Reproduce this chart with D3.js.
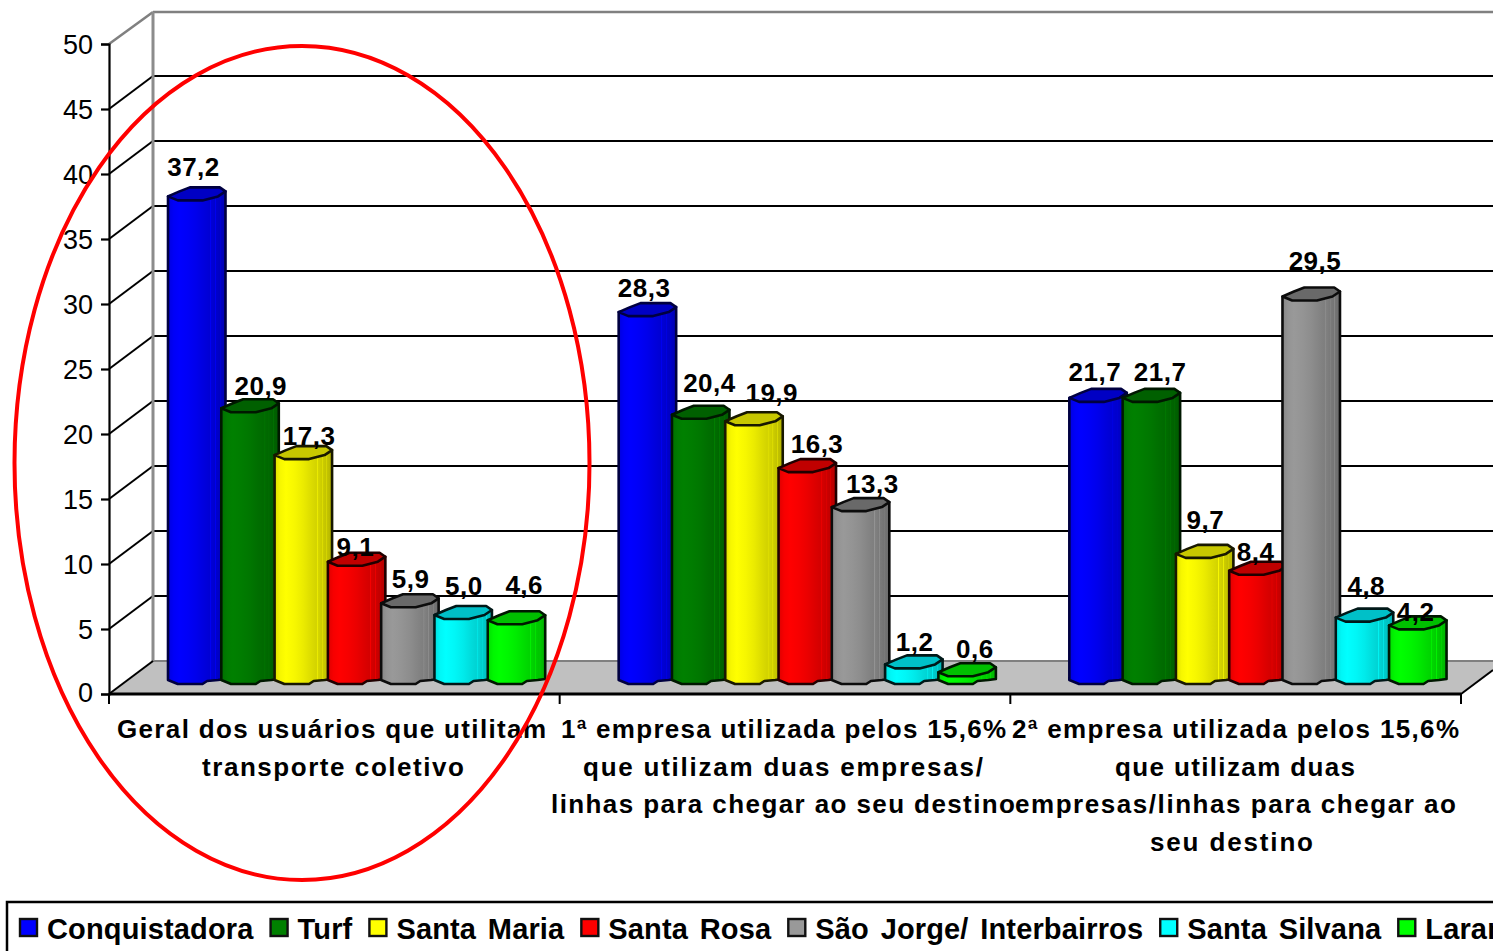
<!DOCTYPE html>
<html><head><meta charset="utf-8">
<script src="https://cdn.jsdelivr.net/npm/d3@7"></script>
<style>
html,body{margin:0;padding:0;background:#fff;overflow:hidden}
svg{display:block}
text{font-family:"Liberation Sans",Arial,sans-serif;fill:#000}
</style></head><body>
<svg id="c" width="1493" height="951"></svg>
<script>
const categories = ["cat1","cat2","cat3"];
const categoryLines = [
  ["Geral dos usuários que utilitam","transporte coletivo"],
  ["1ª empresa utilizada pelos 15,6%","que utilizam duas empresas/","linhas para chegar ao seu destino"],
  ["2ª empresa utilizada pelos 15,6%","que utilizam duas","empresas/linhas para chegar ao","seu destino"]
];
const seriesNames = ["Conquistadora","Turf","Santa Maria","Santa Rosa","São Jorge/ Interbairros","Santa Silvana","Laranjeiras"];
const conquistadora = [37.2,28.3,21.7];
const turf = [20.9,20.4,21.7];
const santaMaria = [17.3,19.9,9.7];
const santaRosa = [9.1,16.3,8.4];
const saoJorge = [5.9,13.3,29.5];
const santaSilvana = [5.0,1.2,4.8];
const laranjeiras = [4.6,0.6,4.2];
const seriesValues = [conquistadora,turf,santaMaria,santaRosa,saoJorge,santaSilvana,laranjeiras];
const yTicks = [0,5,10,15,20,25,30,35,40,45,50];

// colours: bright, top face, stroke
const palette = [
  ["#0000ff","#0000c4","#000040"],["#008000","#006000","#001800"],["#ffff00","#c8c800","#181800"],
  ["#ff0000","#c00000","#200000"],["#999999","#696969","#0c0c0c"],["#00ffff","#00c0c8","#001818"],["#00ff00","#00c000","#001800"]
];
// hand placement of the value labels, as in the original (one row per series, one column per category)
const labelDx = [[-3,-3,-3],[11,9,9],[6,18,1],[-1,10,-2],[1,12,4],[1,1,2],[8,8,-2]];
const labelDy = [[-24,-19,-21],[-17,-27,-21],[-14,-23,-29],[-10,-19,-14],[-19,-18,-31],[-24,-17,-27],[-30,-18,-8]];
// left edge and width of each category text line, as set in the original
const lineLeft = [[117,202],[561,583,551],[1012,1115,1015,1150]];
const lineWidth = [[429,262],[445,400,464],[447,240,441,163]];

const svg = d3.select("#c");
const defs = svg.append("defs");
const frontX0=109, frontX1=1461, wallDx=44, wallDy=-32;
const y = d3.scaleLinear().domain([0,50]).range([694,44]);
const x0 = d3.scaleBand().domain(categories).range([frontX0,frontX1]);
const x1 = d3.scaleBand().domain(seriesNames).range([59,432]);
const barW = 57.5, barBase = 10;
const y0=y(0);

// floor
svg.append("path").attr("d",d3.line()([[frontX0,y0],[frontX0+wallDx,y0+wallDy-1],[1493,y0+wallDy-1],[1493,y0-24],[frontX1,y0]]))
  .attr("fill","#c0c0c0");
svg.append("line").attr("x1",frontX0+wallDx).attr("x2",1493).attr("y1",y0+wallDy-1).attr("y2",y0+wallDy-1).attr("stroke","#808080").attr("stroke-width",2);

// gridlines on wall + diagonal side
yTicks.forEach(t=>{
  const yy=y(t);
  if(t>0){
    const top=t===50;
    const by=yy+wallDy-(top?0:1);
    svg.append("line").attr("x1",frontX0+wallDx).attr("x2",1493).attr("y1",by).attr("y2",by)
      .attr("stroke",top?"#808080":"#000").attr("stroke-width",top?2.5:2);
    svg.append("line").attr("x1",frontX0).attr("x2",frontX0+wallDx).attr("y1",yy).attr("y2",by)
      .attr("stroke",top?"#808080":"#000").attr("stroke-width",top?2.5:2);
  }
});
svg.append("line").attr("x1",frontX0+wallDx).attr("x2",frontX0+wallDx).attr("y1",y(50)+wallDy).attr("y2",y0+wallDy-1)
  .attr("stroke","#8c8c8c").attr("stroke-width",3);
svg.append("line").attr("x1",frontX0).attr("x2",frontX0+wallDx).attr("y1",y0).attr("y2",y0+wallDy-1).attr("stroke","#000").attr("stroke-width",2);

// y axis
const gy=svg.append("g").attr("transform",`translate(${frontX0},0)`)
  .call(d3.axisLeft(y).tickValues(yTicks).tickSize(8).tickPadding(8).tickFormat(d3.format("d")));
gy.selectAll("line,path").attr("stroke","#000").attr("stroke-width",2.2);
gy.selectAll("text").attr("font-size",27).attr("font-family","Liberation Sans").attr("fill","#000").attr("dy","0.35em");
gy.selectAll(".tick").filter(d=>d===0).select("text").attr("y",-2).attr("dy","0.35em");

// x axis line + ticks
const gx=svg.append("g").attr("transform",`translate(0,${y0})`)
  .call(d3.axisBottom(x0).tickValues([]).tickSize(0));
gx.select("path").attr("stroke","#000").attr("stroke-width",3).attr("d",`M${frontX0},0H${frontX1}`);
[...categories.map(c=>x0(c)),frontX1].forEach(px=>{
  svg.append("line").attr("x1",px).attr("x2",px).attr("y1",y0).attr("y2",y0+10).attr("stroke","#000").attr("stroke-width",2);
});
svg.append("line").attr("x1",frontX1).attr("x2",1493).attr("y1",y0).attr("y2",y0-24).attr("stroke","#000").attr("stroke-width",2);

// gradients (striped shading of the cylinder)
palette.forEach((p,i)=>{
  const g=defs.append("linearGradient").attr("id","g"+i);
  const c=d3.color(p[0]);
  const mix=k=>d3.rgb(c.r*k,c.g*k,c.b*k)+"";
  [[0,.86],[.05,.92],[.1,.97],[.2,1],[.35,.97],[.5,.92],[.62,.87],[.72,.83],[.735,.83],[.74,.98],[.755,.84],[.82,.8],[.825,.95],[.84,.8],[.9,.76],[.905,.88],[.92,.76],[1,.7]]
    .forEach(([o,k])=>g.append("stop").attr("offset",o).attr("stop-color",mix(k)));
});

// bars
const topShape=[[0,0],[.2,-5],[.38,-9],[.9,-9],[1,-5],[.87,0],[.6,4],[.17,4]];
const barsG=svg.append("g");
categories.forEach((cat,ci)=>{
  seriesNames.forEach((s,si)=>{
    const v=seriesValues[si][ci];
    const bx=x0(cat)+x1(s), ty=y(v)-barBase-4;
    const fx=f=>bx+f*barW;
    const baseY=y0-barBase;
    const bottom=[[1,baseY-5],[.87,baseY-4],[.68,baseY-3],[.6,baseY],[.17,baseY],[0,baseY-4]];
    const pts=[[fx(0),ty],...bottom.slice().reverse().map(d=>[fx(d[0]),d[1]]),[fx(1),ty-5]];
    barsG.append("path").attr("d",d3.line()(pts)+"Z").attr("fill",`url(#g${si})`)
      .attr("stroke",palette[si][2]).attr("stroke-width",2.6).attr("stroke-linejoin","round");
    barsG.append("path").attr("d",d3.line().curve(d3.curveLinearClosed)(topShape.map(d=>[fx(d[0]),ty+d[1]])))
      .attr("fill",palette[si][1]).attr("stroke",palette[si][2]).attr("stroke-width",2.6).attr("stroke-linejoin","round");
  });
});

// value labels
const labelsG=svg.append("g");
categories.forEach((cat,ci)=>{
  seriesNames.forEach((s,si)=>{
    const v=seriesValues[si][ci];
    labelsG.append("text").attr("text-anchor","middle")
      .attr("x",x0(cat)+x1(s)+28.5+labelDx[si][ci])
      .attr("y",y(v)-barBase+labelDy[si][ci])
      .attr("font-size",26).attr("font-weight","bold").attr("letter-spacing","0.5px")
      .text(d3.format(".1f")(v).replace(".",","));
  });
});

// category labels
categories.forEach((cat,ci)=>{
  categoryLines[ci].forEach((ln,li)=>{
    svg.append("text").attr("x",lineLeft[ci][li]).attr("textLength",lineWidth[ci][li]).attr("lengthAdjust","spacing")
      .attr("y",738+li*37.7).attr("font-size",26).attr("font-weight","bold").text(ln);
  });
});

// legend
svg.append("rect").attr("x",7).attr("y",902).attr("width",1600).attr("height",100).attr("fill","none").attr("stroke","#000").attr("stroke-width",2.5);
let lx=19;
seriesNames.forEach((s,i)=>{
  svg.append("rect").attr("x",lx+1).attr("y",919).attr("width",17).attr("height",17).attr("fill",palette[i][0]).attr("stroke","#111").attr("stroke-width",2.4);
  const t=svg.append("text").attr("x",lx+28).attr("y",939).attr("font-size",29).attr("font-weight","bold")
    .attr("letter-spacing","0.15px").attr("word-spacing","3.5px").text(s);
  lx+=28+t.node().getComputedTextLength()+16;
});

// red ellipse annotation
svg.append("ellipse").attr("cx",302).attr("cy",463).attr("rx",287.5).attr("ry",417).attr("fill","none").attr("stroke","#ff0000").attr("stroke-width",4);
</script>
</body></html>
